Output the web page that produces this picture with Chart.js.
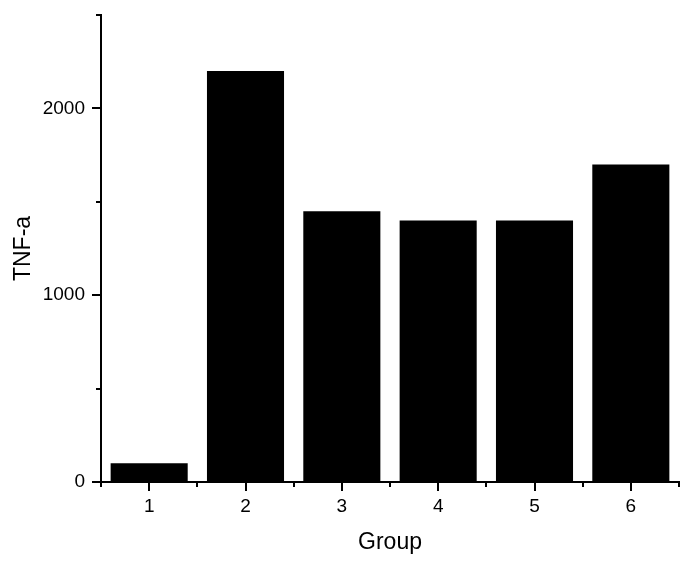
<!DOCTYPE html>
<html>
<head>
<meta charset="utf-8">
<script src="https://cdn.jsdelivr.net/npm/chart.js@4"></script>
<style>
  html, body { margin: 0; padding: 0; background: #fff; }
  #wrap { width: 695px; height: 570px; }
</style>
</head>
<body>
<div id="wrap"><canvas id="chart" width="695" height="570"></canvas></div>
<script>
// ---------- data ----------
const groups   = ['1', '2', '3', '4', '5', '6'];
const tnfA     = [100, 2200, 1450, 1400, 1400, 1700];
const yMajor   = [0, 1000, 2000];   // labelled y ticks
const yMax     = 2500;

const FONT = 'Arial, "Liberation Sans", sans-serif';

// ---------- tick marks (major + minor), drawn through the scales ----------
const tickMarks = {
  id: 'tickMarks',
  afterDraw(chart) {
    const { ctx, chartArea, scales: { x, y } } = chart;
    ctx.save();
    ctx.strokeStyle = '#000';
    ctx.lineWidth = 2;
    ctx.beginPath();
    // y axis: every 500, long at labelled values
    for (let v = 0; v <= yMax; v += 500) {
      const py = Math.round(y.getPixelForValue(v));
      const len = yMajor.includes(v) ? 9 : 5;
      ctx.moveTo(chartArea.left, py);
      ctx.lineTo(chartArea.left - len, py);
    }
    // x axis: long at each group, short at the boundaries
    for (let i = 0; i < groups.length; i++) {
      const px = Math.round(x.getPixelForTick(i));
      ctx.moveTo(px, chartArea.bottom);
      ctx.lineTo(px, chartArea.bottom + 9);
    }
    for (let i = 0; i <= groups.length; i++) {
      let px;
      if (i === 0) px = chartArea.left;
      else if (i === groups.length) px = chartArea.right;
      else px = (x.getPixelForTick(i - 1) + x.getPixelForTick(i)) / 2;
      px = Math.round(px);
      ctx.moveTo(px, chartArea.bottom);
      ctx.lineTo(px, chartArea.bottom + 5);
    }
    ctx.stroke();
    ctx.restore();
  }
};

new Chart(document.getElementById('chart'), {
  type: 'bar',
  data: {
    labels: groups,
    datasets: [{
      data: tnfA,
      backgroundColor: '#000',
      borderWidth: 0,
      barPercentage: 0.8,
      categoryPercentage: 1
    }]
  },
  options: {
    responsive: false,
    animation: false,
    layout: { padding: { top: 15, right: 16, left: 0, bottom: 0 } },
    plugins: { legend: { display: false }, tooltip: { enabled: false } },
    scales: {
      x: {
        grid: { display: true, drawOnChartArea: false, drawTicks: false },
        border: { display: true, color: '#000', width: 2 },
        ticks: { color: '#000', padding: 13, font: { family: FONT, size: 19 } },
        title: {
          display: true, text: 'Group', color: '#000',
          font: { family: FONT, size: 23 }, padding: { top: 0, bottom: 14 }
        },
        afterFit(s) { s.height = 88; s.paddingLeft = 0; s.paddingRight = 0; }
      },
      y: {
        min: 0, max: yMax,
        grid: { display: true, drawOnChartArea: false, drawTicks: false },
        border: { display: true, color: '#000', width: 2 },
        ticks: {
          stepSize: 500, color: '#000', padding: 16,
          font: { family: FONT, size: 19 },
          callback: v => (yMajor.includes(v) ? String(v) : '')
        },
        title: {
          display: true, text: 'TNF-a', color: '#000',
          font: { family: FONT, size: 23 }, padding: { top: 10, bottom: 0 }
        },
        afterFit(s) { s.width = 101; s.paddingTop = 0; s.paddingBottom = 0; }
      }
    }
  },
  plugins: [tickMarks]
});
</script>
</body>
</html>
